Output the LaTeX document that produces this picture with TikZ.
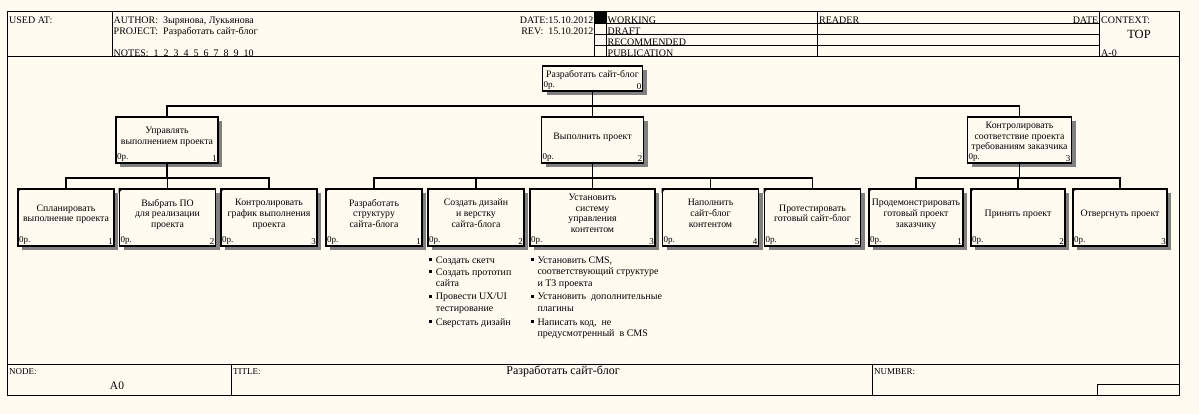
\documentclass[tikz,border=0pt]{standalone}
\usepackage{fontspec}
\setmainfont{Liberation Serif}
\usetikzlibrary{positioning,shadows}
\definecolor{paper}{RGB}{255,251,240}
\colorlet{shade}{black!50}
\newcommand{\hdrfont}{\fontsize{10}{11}\selectfont}
\newcommand{\boxfont}{\fontsize{9.8}{10.7}\selectfont}
\newcommand{\cnrfont}{\fontsize{9}{10}\selectfont}
\newcommand{\notefont}{\fontsize{10}{11.6}\selectfont}
\newcommand{\lowstrut}{\rule[-8pt]{0pt}{8pt}}
\tikzset{
  every node/.style={font=\hdrfont},
  frame/.style={line width=1pt},
  hdr/.style={anchor=base west,inner sep=0pt},
  hdrr/.style={anchor=base east,inner sep=0pt},
  actbox/.style={draw=black,line width=1.8pt,fill=paper,align=center,inner sep=1pt,
    font=\boxfont,execute at end node=\lowstrut,
    drop shadow={shadow xshift=4pt,shadow yshift=-4pt,fill=shade,opacity=1}},
  topbox/.style={actbox,minimum width=100pt,minimum height=24.7pt},
  midbox/.style={actbox,minimum width=102pt,minimum height=46pt},
  leafbox/.style={actbox,minimum width=96pt,minimum height=56.7pt},
  cnr/.style={font=\cnrfont,inner sep=1.8pt},
  num/.style={label={[cnr,anchor=south west]south west:0р.},
    label={[cnr,anchor=south east]south east:#1}},
  conn/.style={line width=1.8pt},
  bul/.style={fill=black,minimum size=3pt,inner sep=0pt},
  item/.style={anchor=north west,inner sep=0pt,align=left,font=\notefont,
    label={[bul,anchor=north east,xshift=-3.5pt,yshift=-1.5pt]north west:}},
}
\begin{document}
\begin{tikzpicture}[x=1pt,y=1pt]
  \useasboundingbox (0,0) rectangle (1199,-414);
  \fill[paper] (0,0) rectangle (1199,-414);

  % ---------------- header
  \node[hdr] (usedat) at (9,-24) {USED AT:};
  \node[hdr] (author) at (113.5,-24) {AUTHOR:\ \ Зырянова, Лукьянова};
  \node[hdr] (project) at (113.5,-35) {PROJECT:\ \ Разработать сайт-блог};
  \node[hdr] (notes) at (113.5,-57) {NOTES:\ \ 1\ \ 2\ \ 3\ \ 4\ \ 5\ \ 6\ \ 7\ \ 8\ \ 9\ \ 10};
  \node[hdrr] (date) at (593.5,-24) {DATE:15.10.2012};
  \node[hdrr] (rev) at (593.5,-35) {REV:\ \ 15.10.2012};
  \node[hdr] (working) at (607.5,-24) {WORKING};
  \node[hdr] (draft) at (607.5,-35) {DRAFT};
  \node[hdr] (recomm) at (607.5,-46) {RECOMMENDED};
  \node[hdr] (public) at (607.5,-57) {PUBLICATION};
  \node[hdr] (reader) at (819,-24) {READER};
  \node[hdrr] (rdate) at (1098.5,-24) {DATE};
  \node[hdr] (context) at (1101,-24) {CONTEXT:};
  \node[anchor=base,inner sep=0pt,font=\fontsize{12.5}{13}\selectfont] (top) at (1139,-38.3) {TOP};
  \node[hdr] (ctxnode) at (1101,-57) {A-0};

  \draw[frame] (7,-12) rectangle (1179,-395);
  \draw[frame] (7,-56.5) -- (1179,-56.5);
  \draw[frame] (112,-12) -- (112,-56.5);
  \fill (594,-12) rectangle (606,-23.3);
  \draw[frame] (594,-12) -- (594,-56.5);
  \draw[frame] (606,-12) -- (606,-56.5);
  \draw[frame] (817,-12) -- (817,-56.5);
  \draw[frame] (1099,-12) -- (1099,-56.5);
  \foreach \y in {-23.3,-34.3,-45.3}
    \draw[frame] (594,\y) -- (1099,\y);

  % ---------------- footer
  \draw[frame] (7,-364) -- (1179,-364);
  \draw[frame] (231,-364) -- (231,-395);
  \draw[frame] (872,-364) -- (872,-395);
  \draw[frame] (1097,-384.7) rectangle (1179,-395);
  \node[hdr,font=\fontsize{9}{10}\selectfont] (nodelbl) at (9,-374) {NODE:};
  \node[anchor=base,inner sep=0pt,font=\fontsize{11.5}{12}\selectfont] (nodeno) at (117,-389.3) {A0};
  \node[hdr,font=\fontsize{9}{10}\selectfont] (titlelbl) at (233,-374) {TITLE:};
  \node[anchor=base,inner sep=0pt,font=\fontsize{12}{13}\selectfont] (title) at (563,-374) {Разработать сайт-блог};
  \node[hdr,font=\fontsize{9}{10}\selectfont] (numlbl) at (874,-374) {NUMBER:};

  % ---------------- activities
  \node[topbox,num=0] (root) at (592.5,-78.3) {Разработать сайт-блог};

  \node[midbox,num=1] (mgmt) at (167,-140) {Управлять\\выполнением проекта};
  \node[midbox,num=2] (exec) at (592.5,-140) {Выполнить проект};
  \node[midbox,num=3,minimum width=104pt] (ctrl) at (1019.5,-140) {Контролировать\\соответствие проекта\\требованиям заказчика};

  \node[leafbox,num=1] (plan) at (66,-217.3) {Спланировать\\выполнение проекта};
  \node[leafbox,num=2] (soft) at (167.5,-217.3) {Выбрать ПО\\для реализации\\проекта};
  \node[leafbox,num=3] (sched) at (269,-217.3) {Контролировать\\график выполнения\\проекта};

  \node[leafbox,num=1] (struct) at (374,-217.3) {Разработать\\структуру\\сайта-блога};
  \node[leafbox,num=2] (design) at (476,-217.3) {Создать дизайн\\и верстку\\сайта-блога};
  \node[leafbox,num=3,minimum width=125pt] (cms) at (592.5,-217.3) {Установить\\систему\\управления\\контентом};
  \node[leafbox,num=4] (content) at (710.5,-217.3) {Наполнить\\сайт-блог\\контентом};
  \node[leafbox,num=5] (test) at (812.5,-217.3) {Протестировать\\готовый сайт-блог};

  \node[leafbox,num=1,minimum width=94pt] (demo) at (916,-217.3) {Продемонстрировать\\готовый проект\\заказчику};
  \node[leafbox,num=2,minimum width=94pt] (accept) at (1018,-217.3) {Принять проект};
  \node[leafbox,num=3,minimum width=94pt] (reject) at (1120,-217.3) {Отвергнуть проект};

  % corner marks of boxes without decomposition
  \foreach \b in {plan,soft,sched,struct,content,test,demo,accept,reject}
    \fill (\b.north west) -- ++(5,0) -- ++(-5,-5) -- cycle;

  % ---------------- tree
  \draw[conn] (root.south) -- ++(0,-14.3) -| (mgmt.north);
  \draw[conn] (root.south) -- (exec.north);
  \draw[conn] (root.south) -- ++(0,-14.3) -| (ctrl.north);

  \foreach \c in {plan,soft,sched}
    \draw[conn] (mgmt.south) -- ++(0,-14.3) -| (\c.north);
  \foreach \c in {struct,design,cms,content,test}
    \draw[conn] (exec.south) -- ++(0,-14.3) -| (\c.north);
  \foreach \c in {demo,accept,reject}
    \draw[conn] (ctrl.south) -- ++(0,-14.3) -| (\c.north);

  % ---------------- sub-steps
  \node[item] (sketch) at (435.7,-256.5) {Создать скетч};
  \node[item] (proto) at (435.7,-268.2) {Создать прототип\\сайта};
  \node[item] (uxtest) at (435.7,-293.2) {Провести UX/UI\\тестирование};
  \node[item] (markup) at (435.7,-318.5) {Сверстать дизайн};

  \node[item] (instcms) at (537.3,-256.5) {Установить CMS,\\соответствующий структуре\\и ТЗ проекта};
  \node[item] (plugins) at (537.3,-293.2) {Установить\ \ дополнительные\\плагины};
  \node[item] (code) at (537.3,-318.5) {Написать код,\ \ не\\предусмотренный\ \ в CMS};
\end{tikzpicture}
\end{document}
